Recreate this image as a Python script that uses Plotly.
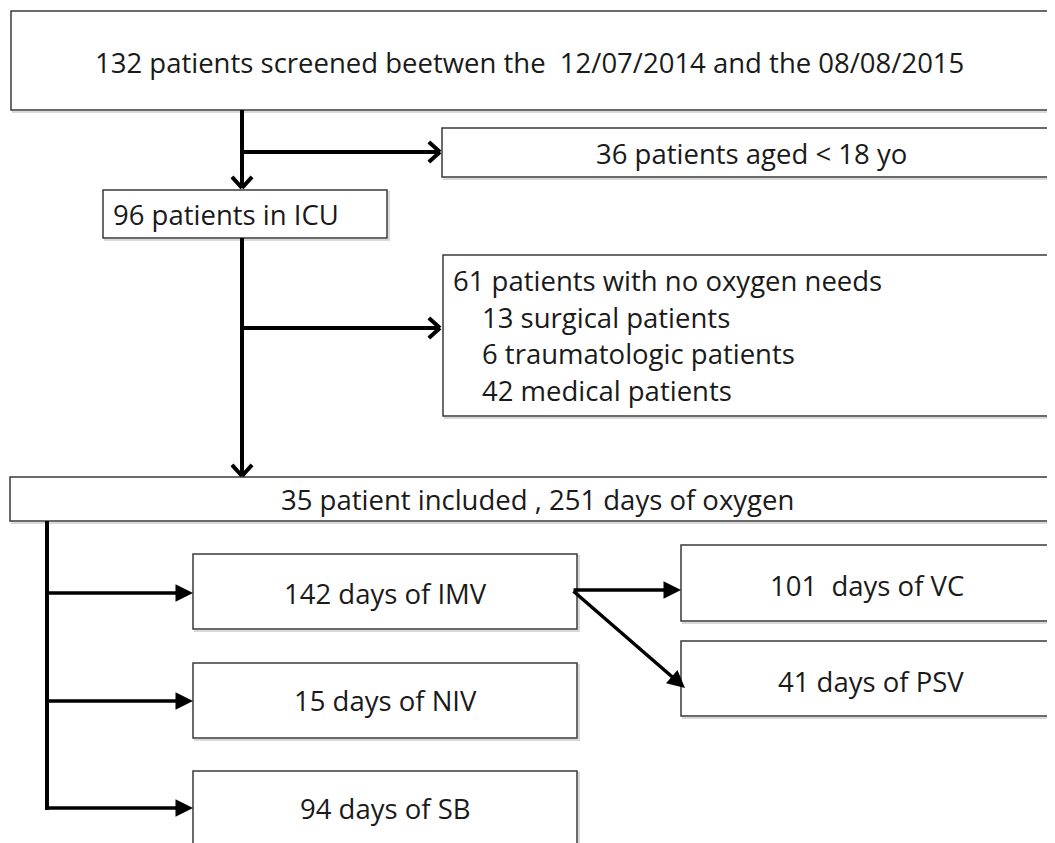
import math
import plotly.graph_objects as go

W, H = 1055, 843
OFF = 8  # page body margin

# ---- content (texts) ----
title_text = "132 patients screened beetwen the\u00a0 12/07/2014 and the 08/08/2015"
excluded_age = "36 patients aged < 18 yo"
icu_text = "96 patients in ICU"
no_oxygen_head = "61 patients with no oxygen needs"
no_oxygen_items = ["13 surgical patients", "6 traumatologic patients", "42 medical patients"]
included_text = "35 patient included , 251 days of oxygen"
modes = ["142 days of IMV", "15 days of NIV", "94 days of SB"]
imv_sub = ["101\u00a0 days of VC", "41 days of PSV"]

# ---- layout geometry (pixels) ----
boxes = [
    (11, 11, 1075, 110),    # top
    (442, 128, 1075, 177),  # 36 aged
    (103, 190, 387, 238),   # ICU
    (443, 255, 1075, 416),  # 61 no oxygen
    (10, 477, 1075, 521),   # 35 included
    (193, 554, 577, 629),   # IMV
    (193, 663, 577, 738),   # NIV
    (193, 771, 577, 900),   # SB
    (681, 545, 1075, 621),  # VC
    (681, 641, 1075, 716),  # PSV
]

fig = go.Figure()
fig.add_trace(go.Scatter(x=[0], y=[0], mode="markers", marker=dict(opacity=0), hoverinfo="skip", showlegend=False))

shapes = []
for (x0, y0, x1, y1) in boxes:
    shapes.append(dict(type="rect", x0=x0 + 2, y0=y0 + 2, x1=x1 + 2, y1=y1 + 2,
                       line=dict(color="rgba(0,0,0,0.15)", width=2), fillcolor="rgba(0,0,0,0)", layer="below"))
    shapes.append(dict(type="rect", x0=x0, y0=y0, x1=x1, y1=y1,
                       line=dict(color="#3a3a3a", width=1.5), fillcolor="white", layer="below"))

LW = 4
def seg(x0, y0, x1, y1, w=LW):
    shapes.append(dict(type="line", x0=x0, y0=y0, x1=x1, y1=y1, line=dict(color="black", width=w), layer="above"))

def chevron_arrow(x0, y0, x1, y1, size=15, ang=42):
    seg(x0, y0, x1, y1)
    th = math.atan2(y1 - y0, x1 - x0)
    for s in (1, -1):
        a = th + math.pi - s * math.radians(ang)
        seg(x1, y1, x1 + size * math.cos(a), y1 + size * math.sin(a))

annotations = []
def arrow(x0, y0, x1, y1, w=3.5, head=1.0):
    annotations.append(dict(x=x1, y=y1, ax=x0, ay=y0, xref="x", yref="y", axref="x", ayref="y",
                            showarrow=True, arrowhead=2, arrowsize=head, arrowwidth=w,
                            arrowcolor="black", text=""))

# top section: open chevron arrows
seg(242, 110, 242, 152)
chevron_arrow(242, 152, 242, 188)
chevron_arrow(242, 152, 440, 152)
seg(242, 238, 242, 328)
chevron_arrow(242, 328, 440, 328)
chevron_arrow(242, 328, 242, 476)

# bottom section: filled arrows
seg(47, 521, 47, 810)
arrow(45, 593, 193, 593)
arrow(45, 701, 193, 701)
arrow(45, 808, 193, 808)
arrow(572, 590, 681, 590)
arrow(572, 590, 685, 688)

FONT = "'Open Sans', Lato, sans-serif"
TC = "#1a1a1a"
FS = 27.5

def txt(x, y, s, anchor="center", size=FS):
    annotations.append(dict(x=x, y=y, xref="x", yref="y", text=s, showarrow=False,
                            xanchor=anchor, yanchor="middle",
                            font=dict(family=FONT, size=size, color=TC)))

txt(529, 62, title_text)
txt(751, 153, excluded_age)
txt(111, 214, icu_text, anchor="left")
txt(451, 280, no_oxygen_head, anchor="left")
for i, s in enumerate(no_oxygen_items):
    txt(480, 317 + i * 36.5, s, anchor="left")
txt(537, 499, included_text)
for s, y in zip(modes, [593, 700, 808]):
    txt(385, y, s)
txt(867, 585, imv_sub[0])
txt(871, 681, imv_sub[1])

fig.update_layout(
    width=W, height=H,
    margin=dict(l=0, r=0, t=0, b=0),
    paper_bgcolor="white", plot_bgcolor="white",
    xaxis=dict(range=[OFF, W + OFF], visible=False, fixedrange=True),
    yaxis=dict(range=[H + OFF, OFF], visible=False, fixedrange=True),
    shapes=shapes, annotations=annotations, showlegend=False,
)

fig.write_html("out.html")
